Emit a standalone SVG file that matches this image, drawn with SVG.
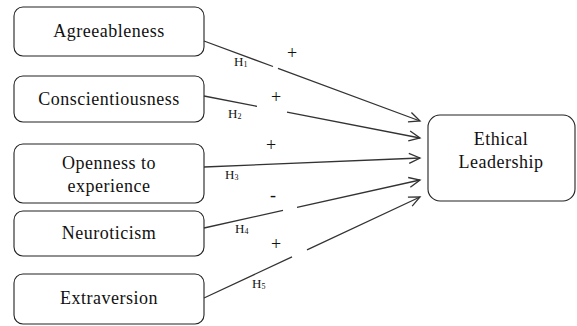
<svg xmlns="http://www.w3.org/2000/svg" width="577" height="326" viewBox="0 0 577 326">
<defs>
<style>
.box{fill:#fff;stroke:#222;stroke-width:1.1}
.t{font-size:18px;fill:#111;text-anchor:middle}
.l{letter-spacing:0.5px}
.h{font-size:13px;fill:#111}
.s{font-size:8px}
.c{fill:none;stroke:#333;stroke-width:1.3}
</style>
<marker id="ah" markerWidth="14" markerHeight="14" refX="12" refY="6" orient="auto" markerUnits="userSpaceOnUse">
<path d="M1,1 L12,6 L1,11" fill="none" stroke="#333" stroke-width="1.3"/>
</marker>
</defs>
<rect width="577" height="326" fill="#fff"/>
<g font-family="Liberation Serif, DejaVu Serif, Times New Roman, serif">
<g id="agreeableness"><rect class="box" x="14" y="7" width="190" height="49" rx="9"/><text class="t l" x="109" y="37">Agreeableness</text></g>
<g id="conscientiousness"><rect class="box" x="14" y="76" width="190" height="46" rx="9"/><text class="t l" x="109" y="105">Conscientiousness</text></g>
<g id="openness"><rect class="box" x="14" y="144" width="190" height="59" rx="9"/><text class="t l" x="109" y="169">Openness to</text><text class="t l" x="109" y="192">experience</text></g>
<g id="neuroticism"><rect class="box" x="14" y="211" width="190" height="45" rx="9"/><text class="t l" x="109" y="239">Neuroticism</text></g>
<g id="extraversion"><rect class="box" x="14" y="274" width="190" height="50" rx="9"/><text class="t l" x="109" y="304">Extraversion</text></g>
<g id="ethical-leadership"><rect class="box" x="428" y="115" width="147" height="86" rx="12"/><text class="t l" x="501" y="145">Ethical</text><text class="t l" x="501" y="168">Leadership</text></g>
<g id="connectors">
<path class="c" d="M204,41 L273,66.5 M278,68.4 L420,121" marker-end="url(#ah)"/>
<path class="c" d="M204,96 L257,106.3 M287,112.1 L420,138" marker-end="url(#ah)"/>
<path class="c" d="M204,167 L420,158" marker-end="url(#ah)"/>
<path class="c" d="M204,228 L283,210.4 M297,207.3 L420,180" marker-end="url(#ah)"/>
<path class="c" d="M204,298 L292,256.9 M307,249.8 L420,197" marker-end="url(#ah)"/>
<text class="t" x="292" y="58.5">+</text>
<text class="t" x="276" y="102.5">+</text>
<text class="t" x="271" y="150.5">+</text>
<text class="t" x="273" y="201">-</text>
<text class="t" x="276" y="249.5">+</text>
<text class="h" x="234" y="66">H<tspan class="s" dy="1">1</tspan></text>
<text class="h" x="228" y="118">H<tspan class="s" dy="1">2</tspan></text>
<text class="h" x="225" y="179">H<tspan class="s" dy="1">3</tspan></text>
<text class="h" x="235" y="233">H<tspan class="s" dy="1">4</tspan></text>
<text class="h" x="252" y="288">H<tspan class="s" dy="1">5</tspan></text>
</g>
</g>
</svg>
